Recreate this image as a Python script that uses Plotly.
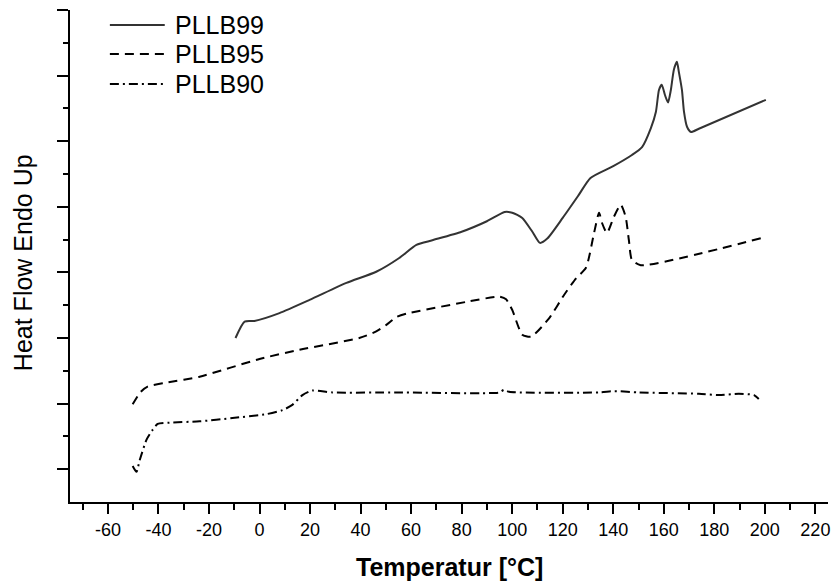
import plotly.graph_objects as go

# ---- data (temperature in °C, heat flow in arbitrary offset units) ----
t_99 = [-9.5, -5.9, -2.0, 7.9, 19.8, 34.4, 46.2, 55.3, 62.1, 68.4, 80, 90, 97, 100, 104, 108, 111,
        114, 120, 126, 131, 140, 147.4, 151.4, 154.9, 156.9, 158.1, 159.2, 160.5, 161.7, 162.8,
        164.0, 165.2, 166.0, 167.2, 168.0, 169.2, 170.8, 173.9, 200.4]
hf_99 = [2.50, 2.75, 2.76, 2.88, 3.08, 3.34, 3.51, 3.72, 3.92, 3.99, 4.12, 4.28, 4.42, 4.41, 4.33,
         4.12, 3.95, 4.02, 4.33, 4.66, 4.94, 5.12, 5.29, 5.41, 5.70, 5.95, 6.28, 6.36, 6.20, 6.09,
         6.28, 6.59, 6.71, 6.55, 6.28, 5.95, 5.72, 5.64, 5.69, 6.13]

t_95 = [-50.2, -47.0, -44.3, -36.8, -23.7, 0, 15.8, 39.5, 46.2, 50.2, 54.2, 58.1, 81.8, 94.9, 97.6,
        100.0, 104.0, 107.5, 114.6, 120.6, 125.3, 129.2, 132.4, 134.4, 135.6, 137.5, 140.3, 143.0,
        144.9, 146.2, 147.4, 150.9, 200.3]
hf_95 = [1.49, 1.68, 1.76, 1.82, 1.91, 2.18, 2.32, 2.50, 2.60, 2.70, 2.82, 2.87, 3.05, 3.13, 3.09,
         2.93, 2.55, 2.52, 2.80, 3.16, 3.41, 3.57, 4.10, 4.41, 4.25, 4.10, 4.35, 4.53, 4.35, 3.99,
         3.69, 3.61, 4.04]

t_90 = [-50.2, -48.7, -47.4, -44.7, -42.3, -40.3, -35.6, -23.7, -10.7, 2.8, 9.1, 13.0, 17.0, 20.9,
        28.9, 55.3, 94.9, 96.8, 98.8, 134.4, 140.3, 150.2, 173.9, 181.8, 189.7, 195.7, 197.6]
hf_90 = [0.55, 0.46, 0.64, 0.95, 1.10, 1.19, 1.21, 1.23, 1.28, 1.34, 1.40, 1.48, 1.63, 1.70,
         1.67, 1.67, 1.67, 1.71, 1.68, 1.67, 1.69, 1.67, 1.65, 1.63, 1.65, 1.63, 1.57]

names = ["PLLB99", "PLLB95", "PLLB90"]
x_ticks = list(range(-60, 221, 20))
x_minor = list(range(-70, 221, 20))
y_major = [0.5 + i for i in range(8)]
y_minor = [1 + i for i in range(7)]

FONT = "Liberation Sans, Arial, sans-serif"
styles = [dict(color="#333333", width=2, dash="solid"),
          dict(color="#000000", width=2, dash="9px,6px"),
          dict(color="#000000", width=2, dash="9px,4px,2px,4px")]

fig = go.Figure()
for (tx, hy), name, st in zip([(t_99, hf_99), (t_95, hf_95), (t_90, hf_90)], names, styles):
    fig.add_trace(go.Scatter(x=tx, y=hy, mode="lines", name=name,
                             line=dict(shape="spline", smoothing=0.6, **st)))

# manual legend (line samples + labels)
leg_y = [0.9695, 0.9106, 0.8496]
for name, st, yy in zip(names, styles, leg_y):
    fig.add_shape(type="line", xref="paper", yref="paper", x0=0.0526, x1=0.125, y0=yy, y1=yy,
                  line=st)
    fig.add_annotation(xref="paper", yref="paper", x=0.1355, y=yy, text=name, showarrow=False,
                       xanchor="left", yanchor="middle", font=dict(family=FONT, size=25, color="black"))

fig.add_annotation(xref="paper", yref="paper", x=0.5, y=-0.132, text="<b>Temperatur [°C]</b>",
                   showarrow=False, xanchor="center", yanchor="middle",
                   font=dict(family=FONT, size=25, color="black"))
fig.add_annotation(xref="paper", yref="paper", x=-0.0618, y=0.4858, text="Heat Flow Endo Up",
                   textangle=-90, showarrow=False, xanchor="center", yanchor="middle",
                   font=dict(family=FONT, size=25, color="black"))

fig.update_layout(
    width=837, height=588,
    margin=dict(l=70, r=7, t=10, b=86),
    paper_bgcolor="white", plot_bgcolor="white",
    showlegend=False,
    font=dict(family=FONT, size=18, color="black"),
    xaxis=dict(range=[-75, 225], tickvals=x_ticks, ticktext=[str(v) for v in x_ticks],
               showgrid=False, zeroline=False, showline=True, linecolor="black", linewidth=2,
               ticks="outside", ticklen=10, tickwidth=2, tickcolor="black",
               tickfont=dict(family=FONT, size=18, color="black"),
               minor=dict(tickvals=x_minor, ticks="outside", ticklen=6, tickwidth=2,
                          tickcolor="black", showgrid=False)),
    yaxis=dict(range=[0, 7.5], tickvals=y_major, showticklabels=False,
               showgrid=False, zeroline=False, showline=True, linecolor="black", linewidth=2,
               ticks="outside", ticklen=11, tickwidth=2, tickcolor="black",
               minor=dict(tickvals=y_minor, ticks="outside", ticklen=5, tickwidth=2,
                          tickcolor="black", showgrid=False)),
)

# remove the browser's default 8px body margin so the figure fills the window exactly
fig.write_html("out.html",
               config={"displayModeBar": False},
               post_script="document.body.style.margin='0';document.body.style.overflow='hidden';")
